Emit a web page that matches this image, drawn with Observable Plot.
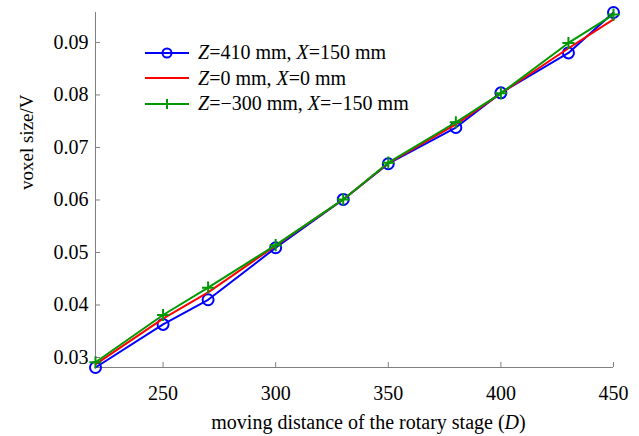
<!DOCTYPE html>
<html>
<head>
<meta charset="utf-8">
<script src="https://cdn.jsdelivr.net/npm/d3@7"></script>
<script src="https://cdn.jsdelivr.net/npm/@observablehq/plot@0.6"></script>
<style>
  html, body { margin: 0; padding: 0; background: white; }
  #wrap { position: relative; width: 639px; height: 436px; font-family: "Liberation Serif", "Times New Roman", serif; }
  #wrap svg text { font-family: "Liberation Serif", "Times New Roman", serif; }
  #legend { position: absolute; left: 145px; top: 40px; font-size: 20px; color: black; line-height: 25.5px; }
  #legend .row { display: flex; align-items: center; white-space: nowrap; }
  #legend svg { margin-right: 9px; }
</style>
</head>
<body>
<div id="wrap"></div>
<script>
// distances of the rotary stage
const D = [220, 250, 270, 300, 330, 350, 380, 400, 430, 450];
// voxel size for each position
const blueVals  = [0.0281, 0.0363, 0.0410, 0.0509, 0.0601, 0.0669, 0.0738, 0.0804, 0.0880, 0.0957];
const redVals   = [0.0287, 0.0374, 0.0424, 0.0513, 0.0601, 0.0670, 0.0744, 0.0803, 0.0889, 0.0944];
const greenVals = [0.0291, 0.0381, 0.0433, 0.0514, 0.0601, 0.0671, 0.0748, 0.0803, 0.0899, 0.0953];
const seriesNames = ["Z=410 mm, X=150 mm", "Z=0 mm, X=0 mm", "Z=\u2212300 mm, X=\u2212150 mm"];
const seriesColors = ["#0000ff", "#ff0000", "#009900"];
const xTicks = [250, 300, 350, 400, 450];
const yTicks = [0.03, 0.04, 0.05, 0.06, 0.07, 0.08, 0.09];
const xDomain = [220, 450];
const yDomain = [0.0281, 0.0957];
const xLabel = "moving distance of the rotary stage (D)";
const yLabel = "voxel size/V";

const serif = "Liberation Serif, Times New Roman, serif";
const mk = (vals) => D.map((d, i) => ({x: d, y: vals[i]}));
const blue = mk(blueVals), red = mk(redVals), green = mk(greenVals);

const chart = Plot.plot({
  width: 639,
  height: 436,
  marginLeft: 95,
  marginRight: 26,
  marginTop: 12,
  marginBottom: 69,
  x: {domain: xDomain},
  y: {domain: yDomain},
  style: {fontFamily: serif, fontSize: "20px", color: "black", background: "white", overflow: "visible"},
  marks: [
    Plot.axisX(xTicks, {tickSize: -5, tickPadding: 23, stroke: "#808080", fill: "black", label: null, fontSize: 20, fontFamily: serif}),
    Plot.axisY(yTicks, {tickSize: -5, tickPadding: 12, stroke: "#808080", fill: "black", label: null, fontSize: 20, fontFamily: serif, tickFormat: d3.format(".2f")}),
    Plot.ruleX([xDomain[0]], {stroke: "#808080", strokeWidth: 1}),
    Plot.ruleY([yDomain[0]], {stroke: "#808080", strokeWidth: 1}),
    Plot.line(blue, {x: "x", y: "y", stroke: seriesColors[0], strokeWidth: 2}),
    Plot.dot(blue, {x: "x", y: "y", stroke: seriesColors[0], r: 5.5, strokeWidth: 2, fill: "none"}),
    Plot.line(red, {x: "x", y: "y", stroke: seriesColors[1], strokeWidth: 2}),
    Plot.line(green, {x: "x", y: "y", stroke: seriesColors[2], strokeWidth: 2}),
    Plot.dot(green, {x: "x", y: "y", stroke: seriesColors[2], symbol: "plus", r: 4, strokeWidth: 2}),
    Plot.text([xLabel], {frameAnchor: "bottom", dy: 61, dx: 14, fontSize: 20, fontFamily: serif, fill: "black"}),
    Plot.text([yLabel], {frameAnchor: "left", dx: -69, rotate: -90, fontSize: 19, fontFamily: serif, fill: "black"})
  ]
});

document.getElementById("wrap").appendChild(chart);

// italic D in x label
chart.querySelectorAll("text").forEach(t => {
  if (t.textContent === xLabel) {
    t.innerHTML = 'moving distance of the rotary stage (<tspan font-style="italic">D</tspan>)';
  }
});

// legend
const legend = document.createElement("div");
legend.id = "legend";
const legendHtml = [
  '<i>Z</i>=410 mm, <i>X</i>=150 mm',
  '<i>Z</i>=0 mm, <i>X</i>=0 mm',
  '<i>Z</i>=\u2212300 mm, <i>X</i>=\u2212150 mm'
];
seriesNames.forEach((name, i) => {
  const row = document.createElement("div");
  row.className = "row";
  let marker = "";
  if (i === 0) marker = `<circle cx="22" cy="10" r="4.5" fill="none" stroke="${seriesColors[0]}" stroke-width="2"/>`;
  if (i === 2) marker = `<path d="M22,5V15M17,10H27" stroke="${seriesColors[2]}" stroke-width="2"/>`;
  row.innerHTML = `<svg width="44" height="20"><line x1="0" y1="10" x2="44" y2="10" stroke="${seriesColors[i]}" stroke-width="2"/>${marker}</svg><span>${legendHtml[i]}</span>`;
  legend.appendChild(row);
});
document.getElementById("wrap").appendChild(legend);
</script>
</body>
</html>
